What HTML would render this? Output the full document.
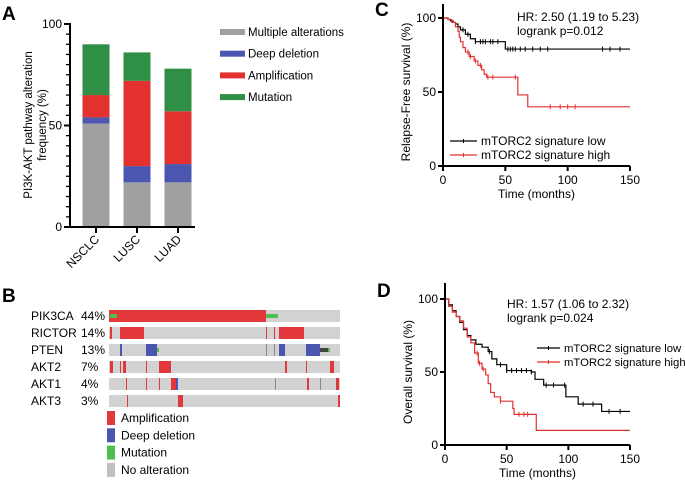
<!DOCTYPE html>
<html><head><meta charset="utf-8">
<style>
html,body{margin:0;padding:0;background:#fff;}
svg{display:block;font-family:"Liberation Sans",Arial,sans-serif;}
</style></head>
<body>
<svg id="fig" width="685" height="488" viewBox="0 0 685 488">
  <g id="panelA"></g>
  <g id="panelB"></g>
  <g id="panelC"></g>
  <g id="panelD"></g>
</svg>
<script>
// ---------- Panel A data ----------
const catsA = ["NSCLC","LUSC","LUAD"];
const multipleVals = [51, 22, 22];
const deletionVals = [3, 8, 9];
const amplifVals = [11, 42, 26];
const mutationVals = [25, 14, 21];
const yTicksA = [0, 50, 100];
const legendA = ["Multiple alterations","Deep deletion","Amplification","Mutation"];
const colorsA = ["#a0a0a0","#4a56b0","#e2312f","#2f8f46"];

// ---------- Panel B data (sample index 0..230) ----------
const genesB = ["PIK3CA","RICTOR","PTEN","AKT2","AKT1","AKT3"];
const pctB = ["44%","14%","13%","7%","4%","3%"];
const segsB = [
  [[0,157,"amp"],[1,8,"mut"],[157,169,"mut"]],
  [[1,3,"amp"],[11,35,"amp"],[157,158,"amp"],[165,166,"amp"],[170,195,"amp"]],
  [[11,13,"del"],[37,48,"del"],[48,50,"mut"],[157,158,"oth"],[165,166,"oth"],[170,176,"del"],[197,211,"del"],[211,219,"dark"],[219,221,"mut"]],
  [[1,4,"amp"],[11,12,"amp"],[14,17,"amp"],[37,38,"amp"],[50,62,"amp"],[176,178,"amp"],[197,198,"amp"],[221,225,"amp"]],
  [[17,18,"amp"],[37,38,"amp"],[50,51,"amp"],[62,67,"amp"],[67,69,"del"],[166,167,"oth"],[198,200,"amp"],[211,212,"oth"],[227,230,"amp"]],
  [[18,19,"amp"],[69,74,"amp"],[229,231,"amp"]]
];
const legendB = ["Amplification","Deep deletion","Mutation","No alteration"];

// ---------- Panel C data ----------
const cLowT = [0,4,6,8,10,12,14,18,22,26,50,150];
const cLowS = [100,99,98,97,96,94,92,89,86,84,79,79];
const cLowCens = [16,20,26,30,32,34,38,40,44,52,54,56,58,62,66,72,78,84,128,134,142];
const cHighT = [0,4,7,10,12,13,14,16,18,21,25,28,31,33,35,58,60,68,150];
const cHighS = [100,99,97,94,91,87,84,80,77,74,71,68,65,62,60,60,48,40,40];
const cHighCens = [20,22,26,30,36,40,58,86,94,100,106];

// ---------- Panel D data ----------
const dLowT = [0,3,6,9,12,15,18,21,25,30,35,38,42,50,70,73,80,95,98,108,127,150];
const dLowS = [100,96,92,88,84,79,75,72,69,67,64,59,55,51,50,45,41,41,33,28,23,23];
const dLowCens = [36,45,50,54,58,62,66,70,82,88,97,112,120,133,142];
const dHighT = [0,3,6,9,12,15,18,21,24,27,30,33,35,37,40,45,55,56,74,150];
const dHighS = [100,95,91,88,85,80,74,70,63,56,52,48,42,36,33,30,25,21,10,10];
const dHighCens = [26,28,31,45,60,64,67];

const NS = "http://www.w3.org/2000/svg";
function mk(parent, tag, attrs, text){
  const e = document.createElementNS(NS, tag);
  for (const k in attrs) e.setAttribute(k, attrs[k]);
  if (text !== undefined) e.textContent = text;
  parent.appendChild(e);
  return e;
}

// ================= Panel A =================
(function(){
  const g = document.getElementById("panelA");
  const y0 = 227, y100 = 24, axX = 70;
  const yA = v => y0 - (y0 - y100) * v / 100;
  const xA = [96, 137, 178];
  const bw = 27;
  let t = mk(g,"text",{x:2,y:20,"font-size":19,"font-weight":"bold"},"A");
   
  const series = [multipleVals, deletionVals, amplifVals, mutationVals];
  const names = ["multiple","deletion","amplification","mutation"];
  catsA.forEach((c,i)=>{
    let base = 0;
    series.forEach((s,j)=>{
      const r = mk(g,"rect",{x:xA[i]-bw/2,y:yA(base+s[i]),width:bw,height:yA(base)-yA(base+s[i]),fill:colorsA[j]});
      
      
      base += s[i];
    });
    mk(g,"line",{x1:xA[i],y1:y0,x2:xA[i],y2:y0+6,stroke:"#000","stroke-width":2});
    const lb = mk(g,"text",{x:0,y:0,"font-size":12,"text-anchor":"end",transform:`translate(${xA[i]+4},${y0+13}) rotate(-45)`},c);
    
    
  });
  mk(g,"line",{x1:axX,y1:y100-1,x2:axX,y2:y0+1,stroke:"#000","stroke-width":2});
  mk(g,"line",{x1:axX,y1:y0,x2:195,y2:y0,stroke:"#000","stroke-width":2});
  for (let v=0; v<=100; v+=5){
    const major = v%50===0;
    mk(g,"line",{x1:axX-(major?6:4),y1:yA(v),x2:axX,y2:yA(v),stroke:"#000","stroke-width":major?2:1.3});
  }
  yTicksA.forEach(v=>{
    const tl = mk(g,"text",{x:axX-8,y:yA(v)+4,"font-size":12,"text-anchor":"end"},v);
     
  });
  const yt = mk(g,"text",{x:0,y:0,"font-size":11.5,"text-anchor":"middle",transform:"translate(32,125) rotate(-90)"});
   
  mk(yt,"tspan",{x:0,dy:0},"PI3K-AKT pathway alteration");
  mk(yt,"tspan",{x:0,dy:14},"frequency (%)");
  legendA.forEach((n,i)=>{
    const yy = 32 + i*21.7;
    const sw = mk(g,"rect",{x:220,y:yy-3,width:25,height:6,fill:colorsA[i]});
     
    const lt = mk(g,"text",{x:248,y:yy+4,"font-size":11.5},n);
     
  });
})();

// ================= Panel B =================
(function(){
  const g = document.getElementById("panelB");
  const tx0 = 109, tw = 231, N = 231;
  const xB = s => tx0 + tw * s / N;
  const colB = {amp:"#e2383b",del:"#4a56b0",mut:"#4cbf4f",oth:"#888",dark:"#444"};
  let t = mk(g,"text",{x:2,y:302,"font-size":19,"font-weight":"bold"},"B");
   
  genesB.forEach((gn,i)=>{
    const top = 310 + i*17;
    const gl = mk(g,"text",{x:31,y:top+10,"font-size":12},gn);
     
    const pl = mk(g,"text",{x:81,y:top+10,"font-size":12},pctB[i]);
     
    const bg = mk(g,"rect",{x:tx0,y:top,width:tw,height:12,fill:"#d2d2d2"});
     
    segsB[i].forEach(sg=>{
      const small = sg[2]==="mut" || sg[2]==="dark";
      const r = mk(g,"rect",{x:xB(sg[0]),y:small?top+4:top,width:Math.max(1,xB(sg[1])-xB(sg[0])),height:small?4:12,fill:colB[sg[2]]});
       
    });
  });
  const lc = ["#e2383b","#4a56b0","#4cbf4f","#c0c0c0"];
  legendB.forEach((n,i)=>{
    const yy = 411 + i*17.3;
    const sw = mk(g,"rect",{x:107,y:yy,width:8,height:14,fill:lc[i]});
     
    const lt = mk(g,"text",{x:121,y:yy+11,"font-size":12},n);
     
  });
})();

// ================= KM helper =================
function km(g, cfg){
  const xs = v => cfg.x0 + (cfg.x1 - cfg.x0) * v / 150;
  const ys = v => cfg.y0 - (cfg.y0 - cfg.y100) * v / 100;
  function stepAt(T,S,t){ let s=S[0]; for(let i=0;i<T.length;i++){ if(T[i]<=t) s=S[i]; } return s; }
  function curve(T,S,cens,color,name){
    let d = `M${xs(T[0])},${ys(S[0])}`;
    for (let i=1;i<T.length;i++){ d += ` H${xs(T[i])} V${ys(S[i])}`; }
    const p = mk(g,"path",{d:d,fill:"none",stroke:color,"stroke-width":1.2});
     
    cens.forEach(c=>{
      const yy = ys(stepAt(T,S,c));
      const m = mk(g,"line",{x1:xs(c),y1:yy-2.5,x2:xs(c),y2:yy+2.5,stroke:color,"stroke-width":1});
       
    });
  }
  curve(cfg.lowT,cfg.lowS,cfg.lowC,"#000","low");
  curve(cfg.highT,cfg.highS,cfg.highC,"#e2312f","high");
  mk(g,"line",{x1:cfg.x0,y1:cfg.yTop,x2:cfg.x0,y2:cfg.y0+1,stroke:"#000","stroke-width":2});
  mk(g,"line",{x1:cfg.x0-1,y1:cfg.y0,x2:cfg.x1,y2:cfg.y0,stroke:"#000","stroke-width":2});
  [0,50,100].forEach(v=>{
    mk(g,"line",{x1:cfg.x0-5,y1:ys(v),x2:cfg.x0,y2:ys(v),stroke:"#000","stroke-width":2});
    const tl = mk(g,"text",{x:cfg.x0-7,y:ys(v)+4,"font-size":12,"text-anchor":"end"},v);
     
  });
  [0,50,100,150].forEach(v=>{
    mk(g,"line",{x1:xs(v),y1:cfg.y0,x2:xs(v),y2:cfg.y0+5,stroke:"#000","stroke-width":2});
    const tl = mk(g,"text",{x:xs(v),y:cfg.y0+18,"font-size":12,"text-anchor":"middle"},v);
     
  });
  const xt = mk(g,"text",{x:(cfg.x0+cfg.x1)/2,y:cfg.y0+32,"font-size":12,"text-anchor":"middle"},"Time (months)");
   
  const yt = mk(g,"text",{x:0,y:0,"font-size":12,"text-anchor":"middle",transform:`translate(${cfg.x0-33},${(cfg.y0+cfg.y100)/2}) rotate(-90)`},cfg.ytitle);
   
  const lb = mk(g,"text",{x:cfg.x0-68,y:cfg.y100-2,"font-size":19,"font-weight":"bold"},cfg.label);
   
  const h1 = mk(g,"text",{x:cfg.hx,y:cfg.hy,"font-size":12},cfg.hr);
   
  const h2 = mk(g,"text",{x:cfg.hx,y:cfg.hy+14,"font-size":12},cfg.p);
   
  [["mTORC2 signature low","#000"],["mTORC2 signature high","#e2312f"]].forEach((e,i)=>{
    const yy = cfg.ly + i*14;
    mk(g,"line",{x1:cfg.lx,y1:yy,x2:cfg.lx+cfg.lw,y2:yy,stroke:e[1],"stroke-width":1.2});
    mk(g,"line",{x1:cfg.lx+cfg.lw/2,y1:yy-2,x2:cfg.lx+cfg.lw/2,y2:yy+2,stroke:e[1],"stroke-width":1});
    const lt = mk(g,"text",{x:cfg.lx+cfg.lw+4,y:yy+4,"font-size":cfg.lfs},e[0]);
     
  });
}

km(document.getElementById("panelC"),{x0:443,x1:630,y0:166,y100:18,yTop:4,
  lowT:cLowT,lowS:cLowS,lowC:cLowCens,highT:cHighT,highS:cHighS,highC:cHighCens,
  ytitle:"Relapse-Free survival (%)",label:"C",hr:"HR: 2.50 (1.19 to 5.23)",p:"logrank p=0.012",
  hx:517,hy:21,lx:450,ly:141,lw:27,lfs:12});
km(document.getElementById("panelD"),{x0:445,x1:630,y0:445,y100:299,yTop:283,
  lowT:dLowT,lowS:dLowS,lowC:dLowCens,highT:dHighT,highS:dHighS,highC:dHighCens,
  ytitle:"Overall survival (%)",label:"D",hr:"HR: 1.57 (1.06 to 2.32)",p:"logrank p=0.024",
  hx:507,hy:308,lx:537,ly:348,lw:23,lfs:11.3});
</script>
</body></html>
